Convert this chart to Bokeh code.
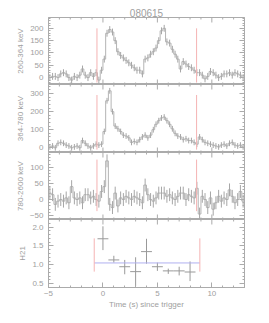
import numpy as np
from bokeh.plotting import figure
from bokeh.models import Range1d, LinearAxis, FixedTicker, PrintfTickFormatter, CustomJSTickFormatter
from bokeh.layouts import column
from bokeh.embed import file_html
from bokeh.resources import INLINE

# ---------------- data ----------------
title_text = "080615"
t_start = -5.0
bin_width = 0.25

rate_260_364 = [0, 5, 5, 0, 15, 20, 15, 0, -10, 5, 0, 10, 35, 10, 0, 20, 5, 20, -10, 30,
                75, 180, 195, 185, 150, 105, 90, 80, 70, 60, 50, 40, 30, 30, 15, 75,
                80, 95, 105, 120, 150, 190, 200, 145, 140, 115, 95, 75, 35, 65, 55, 45,
                40, 30, 20, 20, 10, -5, 5, 25, 20, 10, 0, 5, 15, 15, 20, 10, 20, 15, 10, 0]
rate_364_780 = [5, 10, 0, 25, 30, 25, 15, 10, 0, 5, 10, 0, 40, 25, 10, 0, 10, 20, 15, 20,
                90, 260, 315, 200, 120, 105, 90, 70, 65, 55, 30, 35, 30, 45, 60, 70,
                55, 70, 100, 130, 150, 165, 170, 150, 130, 105, 80, 65, 60, 45, 50, 40,
                40, 30, 20, 60, 45, 30, 25, 20, 15, 10, 5, 15, 20, 10, 25, 30, 15, 10, 15, 5]
rate_780_2600 = [20, 15, -15, -5, 0, -5, 5, -10, 40, 5, 0, 5, -10, 15, 15, 5, 10, 0, -5, 25,
                 40, 120, -15, -25, 20, -20, 5, 0, 10, 5, 0, 10, 5, 0, -10, 45,
                 15, 0, -5, 5, 20, 20, 20, 10, 15, 5, 0, 10, 20, 20, 0, 15,
                 10, 5, 35, -45, 10, 0, -25, 5, -30, -10, 10, -5, 5, 0, 30, 10, -10, 0, 25, -5]
err_260_364 = 14
err_364_780 = 16
err_780_2600 = 20

band_labels = ["260-364 keV", "364-780 keV", "780-2600 keV"]
y_ranges = [(-28, 244), (-26, 350), (-62, 146)]
y_major = [[0, 50, 100, 150, 200], [0, 100, 200, 300], [-50, 0, 50, 100]]
y_minor_step = [10, 20, 10]

# interval markers (top three panels)
t90_bounds = [-0.55, 8.6]
t90_y_extent = [(-20, 200), (-10, 292), (-36, 124)]

# hardness ratio panel
h21_t = [0, 1, 2, 3, 4, 5, 6, 7, 8]
h21_halfwidth = 0.5
h21 = [1.69, 1.13, 0.95, 0.82, 1.35, 0.95, 0.84, 0.84, 0.81]
h21_hi = [2.02, 1.24, 1.13, 1.20, 1.69, 1.06, 0.90, 0.95, 1.09]
h21_lo = [1.39, 1.06, 0.75, 0.44, 1.03, 0.84, 0.76, 0.72, 0.57]
h21_mean = 1.05
h21_interval = [-0.8, 8.9]
h21_interval_y = [0.82, 1.70]
h21_range = (0.4, 2.2)
h21_major = [0.5, 1.0, 1.5, 2.0]

x_range_vals = (-5, 13)
x_major = [-5, 0, 5, 10]
x_minor_step = 1
x_label = "Time (s) since trigger"

# ---------------- style ----------------
AX = "#ababab"
TXT = "#a0a0a0"
DATA = "#b4b4b4"
ERRC = "#a6a6a6"
HCOL = "#999999"
RED = "#f5b3b3"
BLUE = "#b0b0f0"
FONT = "Liberation Sans"

xr = Range1d(*x_range_vals)
LB, FW, RB = 48, 196, 20
W = LB + FW + RB


def minor_list(lo, hi, step):
    n0 = int(np.ceil(lo / step - 1e-9))
    n1 = int(np.floor(hi / step + 1e-9))
    return [round(k * step, 6) for k in range(n0, n1 + 1)]


X_MINOR = [m for m in minor_list(x_range_vals[0], x_range_vals[1], x_minor_step) if m not in x_major]


def style_axis(ax, labels):
    ax.axis_line_color = AX
    ax.major_tick_line_color = AX
    ax.minor_tick_line_color = AX
    ax.major_tick_in = 5
    ax.major_tick_out = 0
    ax.minor_tick_in = 2
    ax.minor_tick_out = 0
    ax.major_label_text_color = TXT
    ax.major_label_text_font = FONT
    ax.major_label_text_font_size = "8px"
    ax.major_label_standoff = 5
    ax.axis_label_text_color = TXT
    ax.axis_label_text_font = FONT
    ax.axis_label_text_font_size = "8px"
    ax.axis_label_text_font_style = "normal"
    ax.axis_label_standoff = 2
    if not labels:
        ax.formatter = CustomJSTickFormatter(code="return ''")
        ax.major_label_text_font_size = "0px"
        ax.major_label_standoff = 0


def edge_ticks(p, y_edge):
    # inward tick marks along a horizontal frame edge (the outer half is clipped by the frame)
    p.scatter(x=x_major, y=[y_edge] * len(x_major), marker="dash", angle=np.pi / 2,
              size=10, line_color=AX, line_width=1)
    p.scatter(x=X_MINOR, y=[y_edge] * len(X_MINOR), marker="dash", angle=np.pi / 2,
              size=4, line_color=AX, line_width=1)


def make_fig(yr, ymaj, yminor, ylabel, top_border, bottom_border, fh, bottom_axis, yfmt=None):
    p = figure(x_range=xr, y_range=Range1d(*yr), width=W,
               height=fh + top_border + bottom_border, output_backend="svg",
               toolbar_location=None, x_axis_location=None, y_axis_location=None,
               min_border_left=LB, min_border_right=RB,
               min_border_top=top_border, min_border_bottom=bottom_border)
    p.grid.visible = False
    p.outline_line_color = AX
    p.background_fill_color = "white"
    p.border_fill_color = "white"
    yt = FixedTicker(ticks=ymaj, minor_ticks=minor_list(yr[0], yr[1], yminor))
    left = LinearAxis(ticker=yt, axis_label=ylabel)
    right = LinearAxis(ticker=yt)
    style_axis(left, True)
    if yfmt is not None:
        left.formatter = yfmt
    style_axis(right, False)
    p.add_layout(left, "left")
    p.add_layout(right, "right")
    edge_ticks(p, yr[1])
    if bottom_axis:
        xt = FixedTicker(ticks=x_major, minor_ticks=X_MINOR)
        below = LinearAxis(ticker=xt, axis_label=x_label)
        style_axis(below, True)
        below.major_label_standoff = 3
        below.axis_label_standoff = 1
        p.add_layout(below, "below")
    else:
        edge_ticks(p, yr[0])
    return p


n = len(rate_260_364)
centers = t_start + bin_width * (np.arange(n) + 0.5)
rates = [rate_260_364, rate_364_780, rate_780_2600]
errs = [err_260_364, err_364_780, err_780_2600]
heights = [67, 68, 67, 68]

figs = []
for k in range(3):
    p = make_fig(y_ranges[k], y_major[k], y_minor_step[k], band_labels[k],
                 17 if k == 0 else 0, 0, heights[k], False)
    v = np.array(rates[k], dtype=float)
    e = errs[k]
    p.step(x=centers, y=v, mode="center", line_color=DATA, line_width=1)
    p.segment(x0=centers, y0=v - e, x1=centers, y1=v + e, line_color=ERRC, line_width=1)
    for tb in t90_bounds:
        p.segment(x0=[tb], y0=[t90_y_extent[k][0]], x1=[tb], y1=[t90_y_extent[k][1]],
                  line_color=RED, line_width=1)
    figs.append(p)

t = figs[0].title
t.text = title_text
t.align = "center"
t.text_font = FONT
t.text_font_size = "10px"
t.text_font_style = "normal"
t.text_color = TXT
t.standoff = 1
t.offset = 0

p4 = make_fig(h21_range, h21_major, 0.1, "H21", 0, 30, heights[3], True,
              yfmt=PrintfTickFormatter(format="%.1f"))
ht = np.array(h21_t, dtype=float)
p4.segment(x0=ht - h21_halfwidth, y0=h21, x1=ht + h21_halfwidth, y1=h21,
           line_color=HCOL, line_width=1)
p4.segment(x0=ht, y0=h21_lo, x1=ht, y1=h21_hi, line_color=HCOL, line_width=1)
p4.segment(x0=[h21_interval[0]], y0=[h21_mean], x1=[h21_interval[1]], y1=[h21_mean],
           line_color=BLUE, line_width=1)
for tb in h21_interval:
    p4.segment(x0=[tb], y0=[h21_interval_y[0]], x1=[tb], y1=[h21_interval_y[1]],
               line_color=RED, line_width=1)
figs.append(p4)

layout = column(*figs, spacing=0)
open("out.html", "w").write(file_html(layout, INLINE))
